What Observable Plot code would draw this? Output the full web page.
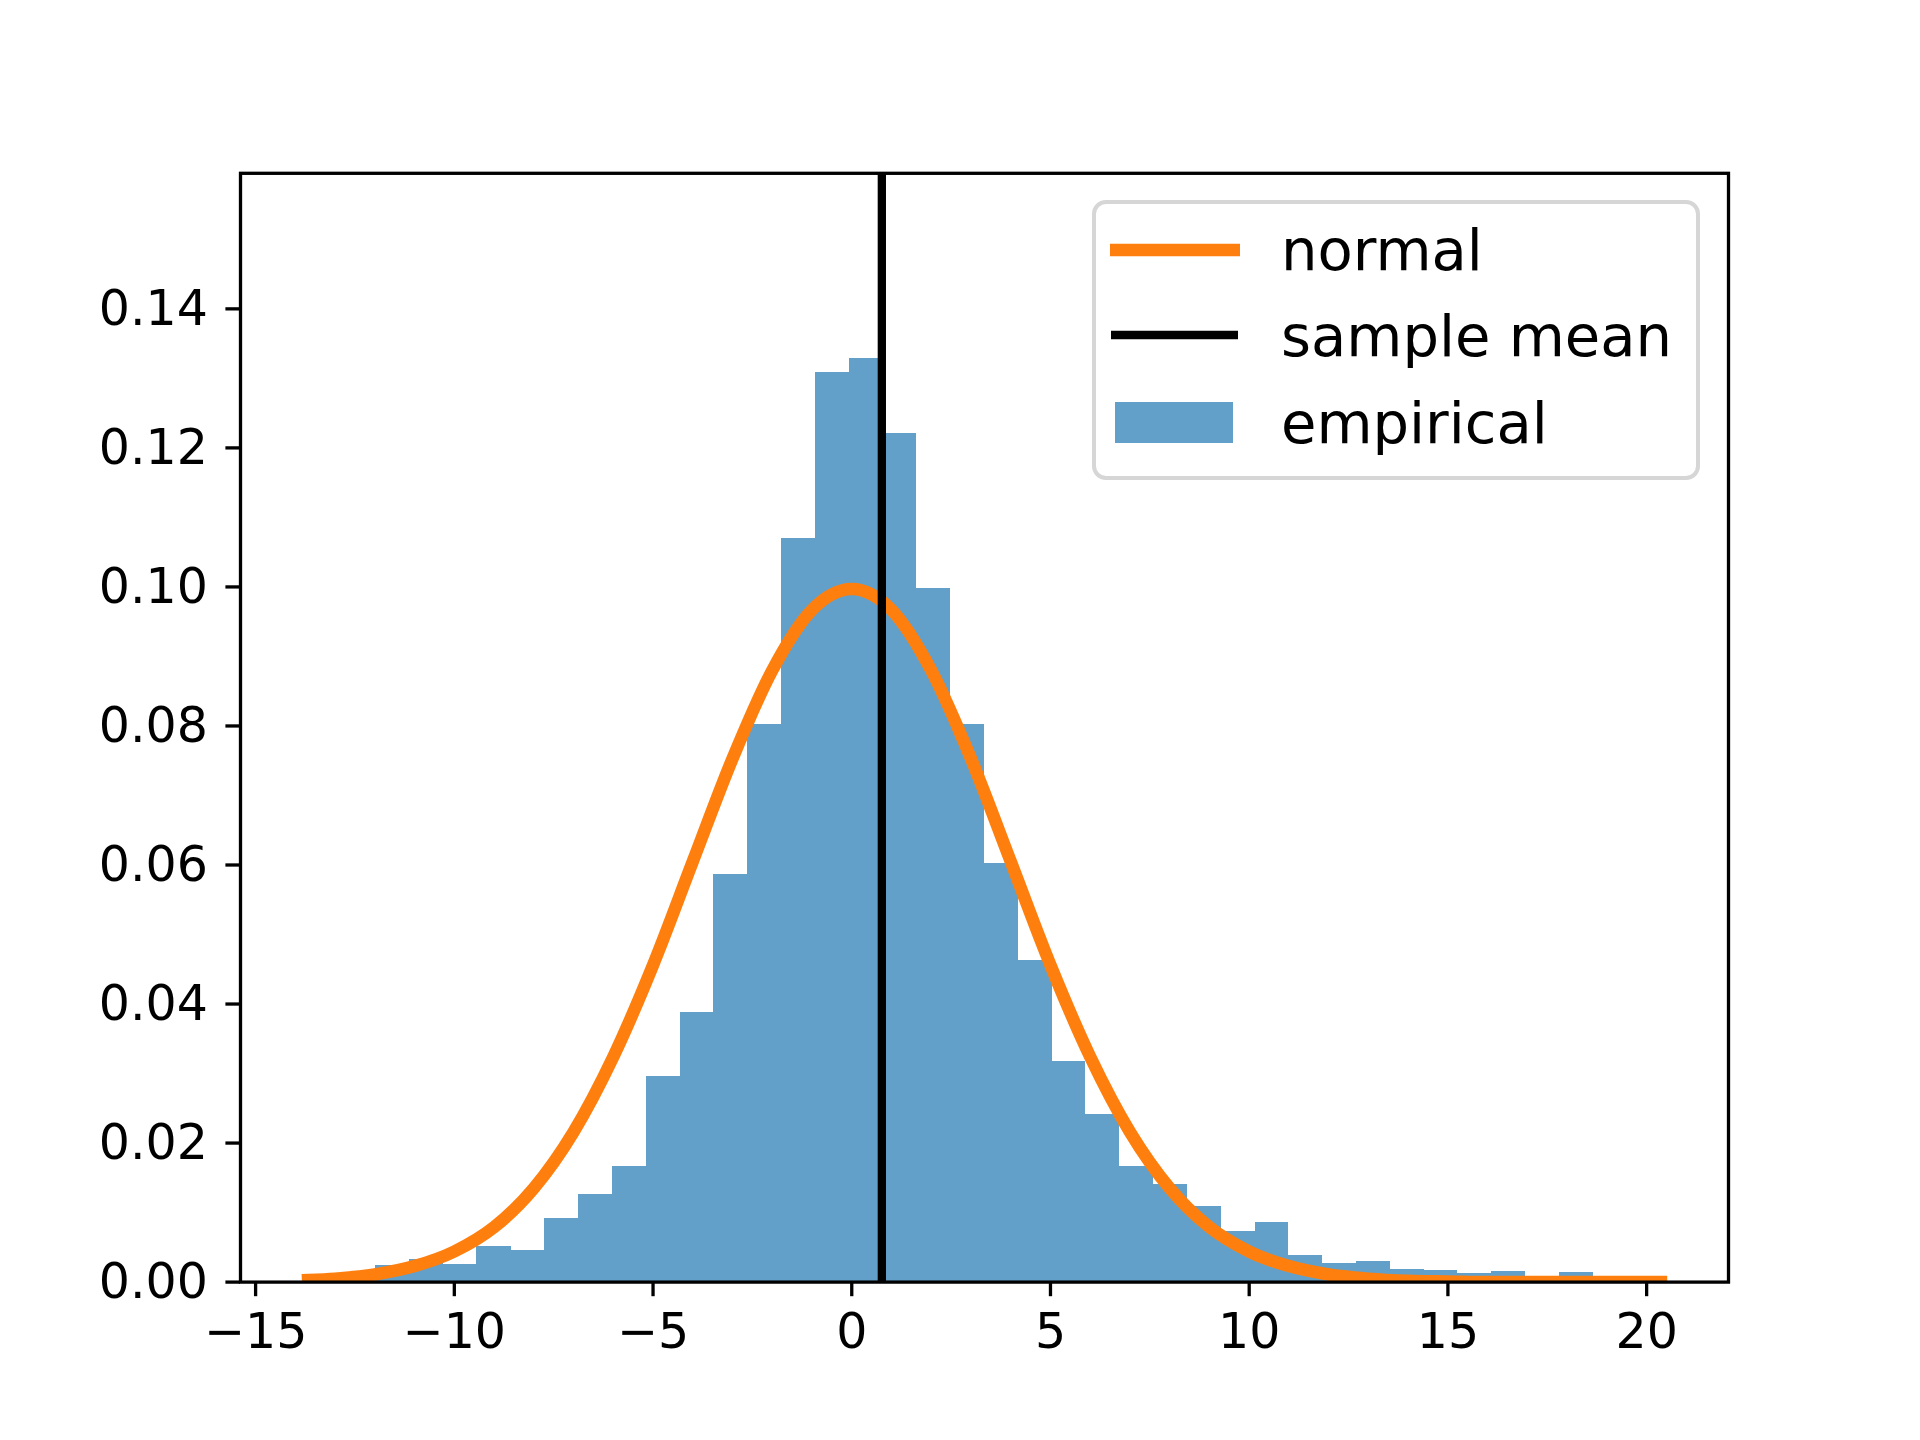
<!DOCTYPE html>
<html>
<head>
<meta charset="utf-8">
<script src="https://cdn.jsdelivr.net/npm/d3@7"></script>
<script src="https://cdn.jsdelivr.net/npm/@observablehq/plot@0.6"></script>
<style>
  html, body { margin: 0; padding: 0; background: #ffffff; }
  #wrap { position: relative; width: 1920px; height: 1440px; background: #ffffff; }
  #wrap svg { display: block; }
</style>
</head>
<body>
<div id="wrap"></div>
<script>
// ---- data ----
const binEdges = [-13.68, -12.83, -11.98, -11.13, -10.28, -9.43, -8.57, -7.72, -6.87, -6.02,
  -5.17, -4.32, -3.47, -2.62, -1.77, -0.92, -0.06, 0.79, 1.64, 2.49,
  3.34, 4.19, 5.04, 5.89, 6.74, 7.60, 8.45, 9.30, 10.15, 11.00,
  11.85, 12.70, 13.55, 14.40, 15.25, 16.10, 16.96, 17.81, 18.66, 19.51, 20.36];
const density = [0.0001, 0.0002, 0.0024, 0.0032, 0.0025, 0.0051, 0.0046, 0.0092, 0.0126, 0.0167,
  0.0296, 0.0388, 0.0587, 0.0802, 0.1069, 0.1309, 0.1329, 0.1221, 0.0998, 0.0802,
  0.0602, 0.0463, 0.0318, 0.0241, 0.0166, 0.0140, 0.0109, 0.0073, 0.0086, 0.0038,
  0.0027, 0.0029, 0.0018, 0.0017, 0.0012, 0.0015, 0.0005, 0.0014, 0.0002, 0.0001];
const normalX = [-13.68, -13, -12, -11, -10, -9, -8, -7, -6, -5, -4, -3, -2, -1, 0,
  1, 2, 3, 4, 5, 6, 7, 8, 9, 10, 11, 12, 13, 14, 15, 16, 17, 18, 19, 20.36];
const normalY = [0.0003, 0.0005, 0.0011, 0.0023, 0.0044, 0.0079, 0.0135, 0.0216, 0.0324, 0.0456,
  0.0605, 0.0753, 0.0880, 0.0967, 0.0997, 0.0967, 0.0880, 0.0753, 0.0605, 0.0456,
  0.0324, 0.0216, 0.0135, 0.0079, 0.0044, 0.0023, 0.0011, 0.0005, 0.0002, 0.0001,
  0, 0, 0, 0, 0];
const sampleMean = 0.757;
const xTicks = [-15, -10, -5, 0, 5, 10, 15, 20];
const yTicks = [0, 0.02, 0.04, 0.06, 0.08, 0.10, 0.12, 0.14];
const legendLabels = ["normal", "sample mean", "empirical"];

// ---- tables for the library ----
const bins = density.map((d, i) => ({x1: binEdges[i], x2: binEdges[i + 1], y: d}));
const curvePts = normalX.map((x, i) => ({x, y: normalY[i]}));

const chart = Plot.plot({
  width: 1920,
  height: 1440,
  marginLeft: 240,
  marginRight: 192,
  marginTop: 172.8,
  marginBottom: 158.4,
  style: {fontFamily: "'DejaVu Sans', sans-serif", fontSize: "48px", background: "white", color: "black"},
  x: {domain: [-15.38, 22.06]},
  y: {domain: [0, 0.1595]},
  marks: [
    Plot.rectY(bins, {x1: "x1", x2: "x2", y: "y", fill: "#62a0ca", insetLeft: 0, insetRight: 0, shapeRendering: "crispEdges"}),
    Plot.lineY(curvePts, {x: "x", y: "y", stroke: "#ff7f0e", strokeWidth: 12.5, curve: "monotone-x", strokeLinecap: "square", clip: true}),
    Plot.ruleX([sampleMean], {stroke: "black", strokeWidth: 8.3}),
    Plot.axisX({ticks: xTicks, tickSize: 14.6, tickPadding: 17, strokeWidth: 3.3, label: null, fontSize: 49}),
    Plot.axisY({ticks: yTicks, tickSize: 14.6, tickPadding: 18, strokeWidth: 3.3, label: null, fontSize: 49, tickFormat: d3.format(".2f")}),
    Plot.frame({stroke: "black", strokeWidth: 3.3})
  ]
});
const wrap = document.getElementById("wrap");
wrap.appendChild(chart);

// ---- legend overlay (inside the axes, upper right) ----
const leg = d3.select(wrap).append("svg")
  .attr("width", 1920).attr("height", 1440)
  .style("position", "absolute").style("left", "0px").style("top", "0px")
  .style("pointer-events", "none");
leg.append("rect")
  .attr("x", 1094).attr("y", 202).attr("width", 604).attr("height", 276)
  .attr("rx", 12).attr("ry", 12)
  .attr("fill", "white").attr("fill-opacity", 0.8)
  .attr("stroke", "#d6d6d6").attr("stroke-width", 4);
leg.append("line").attr("x1", 1110).attr("x2", 1240).attr("y1", 250).attr("y2", 250)
  .attr("stroke", "#ff7f0e").attr("stroke-width", 12.5);
leg.append("line").attr("x1", 1111).attr("x2", 1238).attr("y1", 335).attr("y2", 335)
  .attr("stroke", "black").attr("stroke-width", 8.3);
leg.append("rect").attr("x", 1115).attr("y", 402).attr("width", 118).attr("height", 41)
  .attr("fill", "#62a0ca");
const baselines = [270, 356, 443];
legendLabels.forEach((t, i) => {
  leg.append("text").attr("x", 1281).attr("y", baselines[i])
    .attr("font-family", "'DejaVu Sans', sans-serif").attr("font-size", 57.6)
    .attr("fill", "black").text(t);
});
</script>
</body>
</html>
